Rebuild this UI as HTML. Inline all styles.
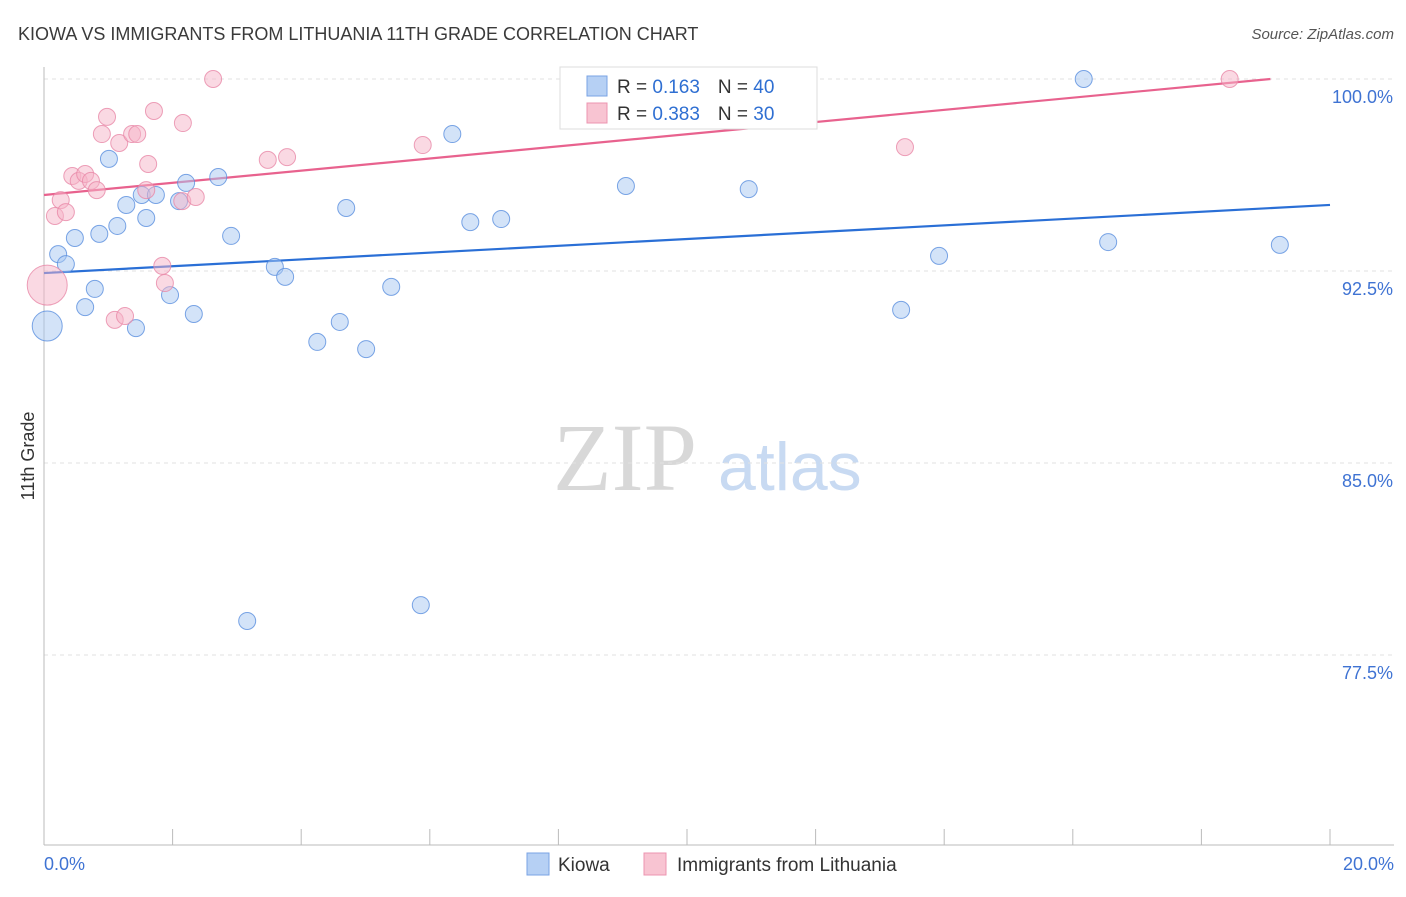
<!DOCTYPE html>
<html><head><meta charset="utf-8"><style>
body{margin:0;background:#fff;font-family:"Liberation Sans",sans-serif}
svg text{font-family:"Liberation Sans",sans-serif}
</style></head><body>
<svg id="chart" width="1406" height="892">
<text x="18" y="40" font-size="18" fill="#3a3a3a">KIOWA VS IMMIGRANTS FROM LITHUANIA 11TH GRADE CORRELATION CHART</text>
<text x="1394" y="39" font-size="15" fill="#555" text-anchor="end" font-style="italic">Source: ZipAtlas.com</text>
<text x="34" y="456" font-size="18" fill="#333" text-anchor="middle" transform="rotate(-90 34 456)">11th Grade</text>
<g>
<text x="553" y="490" font-size="96" fill="#d8d8d8" font-family="Liberation Serif,serif" style="font-family:'Liberation Serif',serif">ZIP</text>
<text x="718" y="490" font-size="68" fill="#c8daf2">atlas</text>
</g>
<g id="grid"></g><g id="axes"></g><g id="lines"></g><g id="pts"></g>
<g>
<rect x="560" y="67" width="257" height="62" fill="#fff" stroke="#ddd"/>
<rect x="587" y="76" width="20" height="20" fill="#b6d0f4" stroke="#7aa3e4"/>
<text x="617" y="93" font-size="19" fill="#333">R = <tspan fill="#2f6fd2"> 0.163</tspan><tspan dx="18">N = </tspan><tspan fill="#2f6fd2">40</tspan></text>
<rect x="587" y="103" width="20" height="20" fill="#f8c4d2" stroke="#ec94b0"/>
<text x="617" y="120" font-size="19" fill="#333">R = <tspan fill="#2f6fd2">0.383</tspan><tspan dx="18">N = </tspan><tspan fill="#2f6fd2">30</tspan></text>
</g>
<g>
<rect x="527" y="853" width="22" height="22" fill="#b6d0f4" stroke="#7aa3e4"/>
<text x="558" y="871" font-size="19" fill="#333">Kiowa</text>
<rect x="644" y="853" width="22" height="22" fill="#f8c4d2" stroke="#ec94b0"/>
<text x="677" y="871" font-size="19" fill="#333">Immigrants from Lithuania</text>
</g>
</svg>
<script>
const yTicks=[100,92.5,85,77.5];
const yTickLabels=["100.0%","92.5%","85.0%","77.5%"];
const xEndLabels=["0.0%","20.0%"];
const kiowaX=[0.05,0.22,0.34,0.48,0.64,0.79,0.86,1.01,1.14,1.28,1.43,1.52,1.59,1.74,1.96,2.10,2.21,2.33,2.71,2.91,3.16,3.59,3.75,4.25,4.60,4.70,5.01,5.40,5.86,6.35,6.63,7.11,9.05,9.11,10.96,13.33,13.92,16.17,16.55,19.22];
const kiowaY=[90.35,93.16,92.77,93.79,91.09,91.80,93.95,96.88,94.26,95.08,90.27,95.47,94.57,95.47,91.56,95.23,95.94,90.82,96.17,93.87,78.83,92.66,92.27,89.73,90.51,94.96,89.45,91.88,79.45,97.85,94.41,94.53,95.82,99.96,95.70,90.98,93.09,100,93.63,93.52];
const litX=[0.05,0.17,0.26,0.34,0.44,0.54,0.64,0.73,0.82,0.90,0.98,1.17,1.37,1.45,1.62,1.59,1.71,1.84,1.88,2.15,2.16,2.36,1.10,1.26,2.63,3.48,3.78,5.89,13.39,18.44];
const litY=[91.95,94.65,95.27,94.80,96.21,96.02,96.29,96.02,95.66,97.85,98.52,97.50,97.85,97.85,96.68,95.66,98.75,92.70,92.03,95.23,98.28,95.39,90.59,90.74,100,96.84,96.95,97.42,97.34,100];
const kiowaTrend=[92.42,95.08];
const litTrend=[95.47,100.22];
const NS="http://www.w3.org/2000/svg";
const X=v=>44+v/20*1286, Y=v=>79+(100-v)/7.5*192;
function mk(p,t,a){const e=document.createElementNS(NS,t);for(const k in a)e.setAttribute(k,a[k]);p.appendChild(e);return e;}
const grid=document.getElementById('grid'),axes=document.getElementById('axes'),lines=document.getElementById('lines'),pts=document.getElementById('pts');
yTicks.forEach((t,i)=>{
 const l=mk(grid,'line',{x1:44,x2:1394,y1:Y(t),y2:Y(t),stroke:'#e2e2e2','stroke-dasharray':'4,4'});
 
 
 const tx=mk(grid,'text',{x:1393,y:Y(t)+24,'font-size':18,fill:'#3f73d3','text-anchor':'end'});tx.textContent=yTickLabels[i];
 
 
});
const ax=mk(axes,'line',{x1:44,x2:44,y1:67,y2:845,stroke:'#bbb'});


const bx=mk(axes,'line',{x1:44,x2:1394,y1:845,y2:845,stroke:'#bbb'});


for(let i=0;i<=10;i++){const t=mk(axes,'line',{x1:X(i*2),x2:X(i*2),y1:829,y2:845,stroke:'#bbb'});
 
 }
[[0,'start',44],[20,'end',1394]].forEach((d,i)=>{const t=mk(axes,'text',{x:d[2],y:870,'font-size':18,fill:'#3f73d3','text-anchor':d[1]});t.textContent=xEndLabels[i];
 
 });
function trend(tr,col,name){let x2=20,y2=tr[1];if(y2>100){x2=20*(100-tr[0])/(tr[1]-tr[0]);y2=100;}
 const l=mk(lines,'line',{x1:X(0),y1:Y(tr[0]),x2:X(x2),y2:Y(y2),stroke:col,'stroke-width':2.2});
 
 }
function dots(xs,ys,fill,stroke,name,big){xs.forEach((x,i)=>{const r=(i===0)?big:8.5;
 const c=mk(pts,'circle',{cx:X(x),cy:Y(ys[i]),r:r,fill:fill,'fill-opacity':0.5,stroke:stroke,'stroke-opacity':0.8,'stroke-width':1});
 
 });}
dots(kiowaX,kiowaY,'#a8c8f2','#5a8ede','kiowa-point',15);
dots(litX,litY,'#f6b4c8','#e888a8','lithuania-point',20);
trend(kiowaTrend,'#2a6fd6','kiowa-trendline');
trend(litTrend,'#e8628e','lithuania-trendline');
</script>
</body></html>
